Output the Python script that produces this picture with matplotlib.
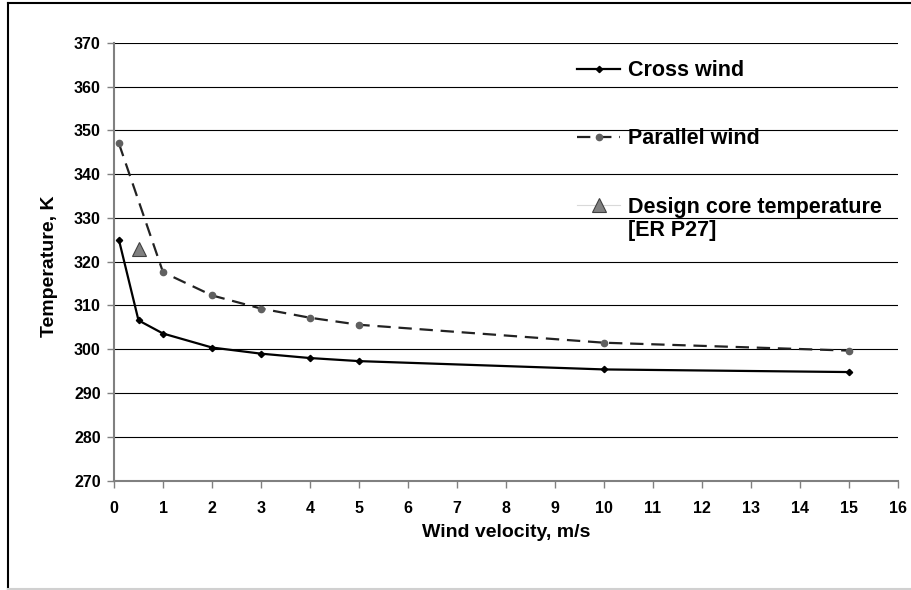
import matplotlib
matplotlib.use('Agg')
import matplotlib.pyplot as plt
from matplotlib.lines import Line2D

plt.rcParams['font.family'] = ['Liberation Sans', 'DejaVu Sans']
plt.rcParams['font.weight'] = 'bold'

# Core temperature vs wind velocity
cross_v = [0.1, 0.5, 1, 2, 3, 4, 5, 10, 15]
cross_t = [325.0, 306.6, 303.6, 300.4, 299.0, 298.0, 297.3, 295.4, 294.8]

parallel_v = [0.1, 1, 2, 3, 4, 5, 10, 15]
parallel_t = [347.0, 317.6, 312.3, 309.3, 307.2, 305.6, 301.5, 299.7]

design_v = [0.5]
design_t = [323.0]

fig = plt.figure(figsize=(9.12, 5.9), dpi=100)
ax = fig.add_axes([0.125, 0.1853, 0.8597, 0.7423])

ax.plot(cross_v, cross_t, color='black', lw=1.6, marker='D', ms=3.2,
        mfc='black', mec='black', label='Cross wind', zorder=4)
ax.plot(parallel_v, parallel_t, color='#222222', lw=1.6, dashes=(6, 3.5),
        marker='o', ms=4.5, mfc='#606060', mec='#606060',
        label='Parallel wind', zorder=3)
ax.plot(design_v, design_t, color='#d9d9d9', lw=0.8, marker='^', ms=10,
        mfc='#808080', mec='#404040', mew=0.8,
        label='Design core temperature', zorder=5)

ax.set_xlim(0, 16)
ax.set_ylim(270, 370)
ax.set_xticks(range(0, 17))
ax.set_yticks(range(270, 371, 10))

ax.yaxis.grid(True, color='black', lw=0.8)
ax.set_axisbelow(True)
for s in ['top', 'right']:
    ax.spines[s].set_visible(False)
for s in ['left', 'bottom']:
    ax.spines[s].set_color('#808080')
    ax.spines[s].set_linewidth(1.5)

ax.tick_params(axis='x', direction='out', length=5, width=1, color='#808080',
               labelsize=11.5, pad=9.5)
ax.tick_params(axis='y', direction='out', length=5, width=1, color='#808080',
               labelsize=11.5, pad=4.5)

ax.set_xlabel('Wind velocity, m/s', fontsize=14, fontweight='bold')
ax.set_ylabel('Temperature, K', fontsize=14, fontweight='bold')
ax.xaxis.set_label_coords(0.5, -0.098)
ax.yaxis.set_label_coords(-0.072, 0.49)

leg = ax.legend(loc='upper left', bbox_to_anchor=(0.58, 0.98), frameon=False,
                fontsize=15.5, handlelength=2.0, handletextpad=0.35,
                labelspacing=2.2, borderaxespad=0)
for t in leg.get_texts():
    t.set_fontweight('bold')

# second line of the design entry, under its legend text
fig.canvas.draw()
bb = leg.get_texts()[-1].get_window_extent()
x0, y0 = fig.transFigure.inverted().transform((bb.x0, bb.y0))
fig.text(x0, y0 - 2 / 590, '[ER P27]', fontsize=15.5, fontweight='bold',
         va='top', ha='left')

# outer frame
fig.add_artist(Line2D([8.5 / 912, 8.5 / 912], [1.5 / 590, 587 / 590],
                      color='black', lw=1.5, transform=fig.transFigure))
fig.add_artist(Line2D([8.5 / 912, 1.0], [587 / 590, 587 / 590],
                      color='black', lw=1.5, transform=fig.transFigure))
fig.add_artist(Line2D([8.5 / 912, 1.0], [1 / 590, 1 / 590],
                      color='#d0d0d0', lw=1.5, transform=fig.transFigure))

fig.savefig('out.png', dpi=100)
